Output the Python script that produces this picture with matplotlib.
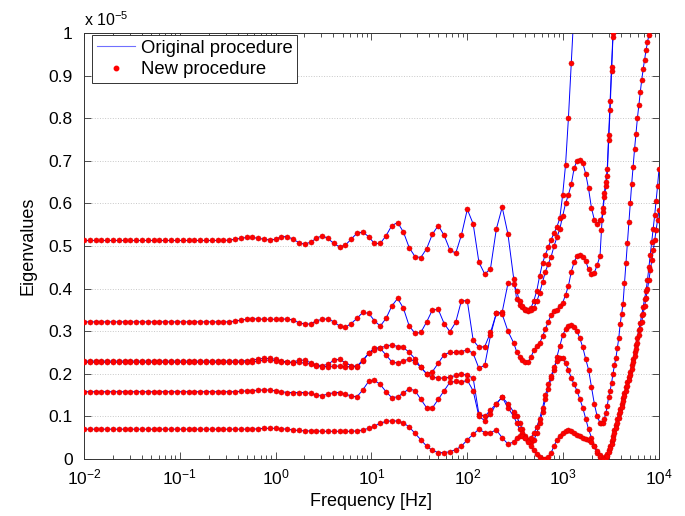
import numpy as np
import matplotlib
matplotlib.use('Agg')
import matplotlib.pyplot as plt
from matplotlib.lines import Line2D
from matplotlib.ticker import LogLocator, NullFormatter

plt.rcParams['font.family'] = ['Liberation Sans', 'DejaVu Sans']
plt.rcParams['mathtext.default'] = 'regular'

# sweep frequencies (log10 Hz)
log_freq = [
    -2.000, -1.939, -1.879, -1.818, -1.758, -1.697, -1.636, -1.576, -1.515, -1.455,
    -1.394, -1.333, -1.273, -1.212, -1.152, -1.091, -1.030, -0.970, -0.909, -0.848,
    -0.788, -0.727, -0.667, -0.606, -0.545, -0.485, -0.424, -0.364, -0.303, -0.242,
    -0.182, -0.121, -0.061, 0.000, 0.061, 0.121, 0.182, 0.242, 0.303, 0.364,
    0.424, 0.485, 0.545, 0.606, 0.667, 0.727, 0.788, 0.848, 0.909, 0.970,
    1.030, 1.091, 1.152, 1.212, 1.273, 1.333, 1.394, 1.455, 1.515, 1.576,
    1.636, 1.697, 1.758, 1.818, 1.879, 1.939, 2.000, 2.061, 2.121, 2.182,
    2.242, 2.303, 2.364, 2.424, 2.485,
    2.515, 2.545, 2.575, 2.605, 2.635, 2.665, 2.695, 2.725, 2.755, 2.785,
    2.815, 2.845, 2.875, 2.905, 2.935, 2.965, 2.995, 3.025, 3.055, 3.085,
    3.115, 3.145, 3.175, 3.205, 3.235, 3.265, 3.295, 3.325, 3.355, 3.385,
    3.400, 3.415, 3.430, 3.445, 3.460, 3.475, 3.490, 3.505, 3.520, 3.535,
    3.550, 3.565, 3.580, 3.595, 3.610, 3.625, 3.640, 3.655, 3.670, 3.685,
    3.700, 3.715, 3.730, 3.745, 3.760, 3.775, 3.790, 3.805, 3.820, 3.835,
    3.850, 3.865, 3.880, 3.895, 3.910, 3.925, 3.940, 3.955, 3.970, 3.985,
    4.000,
]

# eigenvalues in units of 1e-5
eig_1 = [
    0.513, 0.513, 0.513, 0.513, 0.513, 0.513, 0.513, 0.513, 0.513, 0.513,
    0.513, 0.513, 0.513, 0.513, 0.513, 0.513, 0.513, 0.513, 0.513, 0.513,
    0.513, 0.513, 0.513, 0.513, 0.513, 0.514, 0.516, 0.518, 0.520, 0.520,
    0.518, 0.516, 0.514, 0.516, 0.522, 0.522, 0.516, 0.508, 0.504, 0.509,
    0.518, 0.524, 0.518, 0.506, 0.498, 0.502, 0.516, 0.530, 0.533, 0.522,
    0.506, 0.506, 0.524, 0.548, 0.555, 0.533, 0.496, 0.475, 0.473, 0.494,
    0.528, 0.548, 0.525, 0.491, 0.483, 0.526, 0.586, 0.552, 0.462, 0.434,
    0.447, 0.540, 0.591, 0.528, 0.422,
    0.375, 0.362, 0.357, 0.350, 0.347, 0.355, 0.372, 0.395, 0.430, 0.460,
    0.480, 0.497, 0.515, 0.530, 0.545, 0.565, 0.620, 0.690, 0.800, 0.930,
    1.060,
]
eig_2 = [
    0.322, 0.322, 0.322, 0.322, 0.322, 0.322, 0.322, 0.322, 0.322, 0.322,
    0.322, 0.322, 0.322, 0.322, 0.322, 0.322, 0.322, 0.322, 0.322, 0.322,
    0.322, 0.322, 0.322, 0.322, 0.322, 0.322, 0.324, 0.326, 0.328, 0.329,
    0.329, 0.328, 0.328, 0.328, 0.328, 0.329, 0.326, 0.320, 0.317, 0.317,
    0.324, 0.328, 0.329, 0.322, 0.312, 0.309, 0.318, 0.330, 0.344, 0.342,
    0.325, 0.312, 0.330, 0.359, 0.377, 0.354, 0.312, 0.295, 0.297, 0.322,
    0.350, 0.351, 0.318, 0.299, 0.321, 0.372, 0.371, 0.279, 0.262, 0.264,
    0.297, 0.342, 0.345, 0.412, 0.410,
    0.395, 0.370, 0.360, 0.352, 0.350, 0.350, 0.355, 0.370, 0.390, 0.415,
    0.440, 0.458, 0.475, 0.500, 0.520, 0.540, 0.570, 0.600, 0.620, 0.645,
    0.683, 0.700, 0.703, 0.695, 0.670, 0.635, 0.590, 0.562, 0.552, 0.560,
    0.561, 0.580, 0.615, 0.640, 0.665, 0.750, 0.820, 0.910, 0.990, 1.060,
]
eig_3 = [
    0.230, 0.230, 0.230, 0.230, 0.230, 0.230, 0.230, 0.230, 0.230, 0.230,
    0.230, 0.230, 0.230, 0.230, 0.230, 0.230, 0.230, 0.230, 0.230, 0.230,
    0.230, 0.230, 0.230, 0.230, 0.230, 0.230, 0.230, 0.230, 0.231, 0.232,
    0.235, 0.236, 0.236, 0.234, 0.230, 0.228, 0.227, 0.232, 0.232, 0.226,
    0.221, 0.219, 0.222, 0.232, 0.234, 0.226, 0.219, 0.217, 0.229, 0.248,
    0.261, 0.261, 0.265, 0.268, 0.264, 0.262, 0.250, 0.235, 0.215, 0.200,
    0.192, 0.190, 0.190, 0.192, 0.196, 0.200, 0.196, 0.190, 0.105, 0.100,
    0.115, 0.130, 0.145, 0.130, 0.110,
    0.100, 0.085, 0.070, 0.055, 0.045, 0.040, 0.045, 0.060, 0.085, 0.110,
    0.140, 0.165, 0.190, 0.210, 0.240, 0.265, 0.290, 0.305, 0.313, 0.315,
    0.310, 0.300, 0.283, 0.262, 0.235, 0.210, 0.170, 0.130, 0.100, 0.085,
    0.084, 0.084, 0.095, 0.107, 0.125, 0.145, 0.160, 0.178, 0.200, 0.220,
    0.236, 0.260, 0.283, 0.316, 0.340, 0.365, 0.412, 0.459, 0.506, 0.556,
    0.602, 0.645, 0.686, 0.727, 0.763, 0.800, 0.831, 0.861, 0.890, 0.915,
    0.937, 0.960, 0.978, 0.996, 1.020,
]
eig_4 = [
    0.227, 0.227, 0.227, 0.227, 0.227, 0.227, 0.227, 0.227, 0.227, 0.227,
    0.227, 0.227, 0.227, 0.227, 0.227, 0.227, 0.227, 0.227, 0.227, 0.227,
    0.227, 0.227, 0.227, 0.227, 0.227, 0.227, 0.227, 0.227, 0.228, 0.228,
    0.230, 0.232, 0.232, 0.231, 0.228, 0.227, 0.226, 0.227, 0.225, 0.223,
    0.218, 0.217, 0.217, 0.218, 0.218, 0.217, 0.217, 0.218, 0.232, 0.248,
    0.256, 0.260, 0.244, 0.228, 0.225, 0.230, 0.235, 0.228, 0.215, 0.200,
    0.205, 0.225, 0.245, 0.250, 0.250, 0.252, 0.256, 0.248, 0.213, 0.220,
    0.290, 0.342, 0.340, 0.300, 0.272,
    0.252, 0.240, 0.232, 0.227, 0.227, 0.240, 0.255, 0.265, 0.272, 0.288,
    0.305, 0.322, 0.338, 0.347, 0.350, 0.360, 0.367, 0.385, 0.406, 0.440,
    0.462, 0.477, 0.479, 0.475, 0.465, 0.445, 0.435, 0.437, 0.455, 0.477,
    0.538, 0.590, 0.625, 0.650, 0.680, 0.760, 0.840, 0.920, 1.000, 1.050,
]
eig_5 = [
    0.158, 0.158, 0.158, 0.158, 0.158, 0.158, 0.158, 0.158, 0.158, 0.158,
    0.158, 0.158, 0.158, 0.158, 0.158, 0.158, 0.158, 0.158, 0.158, 0.158,
    0.158, 0.158, 0.158, 0.158, 0.158, 0.158, 0.158, 0.159, 0.160, 0.160,
    0.162, 0.162, 0.162, 0.160, 0.158, 0.156, 0.156, 0.156, 0.156, 0.154,
    0.150, 0.149, 0.152, 0.156, 0.156, 0.152, 0.148, 0.146, 0.162, 0.182,
    0.185, 0.175, 0.158, 0.144, 0.146, 0.155, 0.165, 0.160, 0.140, 0.120,
    0.120, 0.140, 0.160, 0.180, 0.182, 0.180, 0.185, 0.160, 0.100, 0.090,
    0.105, 0.130, 0.145, 0.120, 0.100,
    0.085, 0.070, 0.060, 0.050, 0.045, 0.050, 0.060, 0.075, 0.095, 0.120,
    0.150, 0.175, 0.195, 0.215, 0.230, 0.236, 0.237, 0.225, 0.209, 0.190,
    0.175, 0.160, 0.140, 0.120, 0.095, 0.070, 0.050, 0.030, 0.015, 0.005,
    0.002, 0.000, 0.002, 0.006, 0.012, 0.020, 0.030, 0.042, 0.055, 0.068,
    0.080, 0.093, 0.105, 0.118, 0.130, 0.143, 0.155, 0.168, 0.180, 0.193,
    0.205, 0.220, 0.235, 0.250, 0.268, 0.285, 0.303, 0.320, 0.338, 0.357,
    0.376, 0.395, 0.420, 0.450, 0.480, 0.510, 0.540, 0.572, 0.605, 0.640,
    0.680,
]
eig_6 = [
    0.070, 0.070, 0.070, 0.070, 0.070, 0.070, 0.070, 0.070, 0.070, 0.070,
    0.070, 0.070, 0.070, 0.070, 0.070, 0.070, 0.070, 0.070, 0.070, 0.070,
    0.070, 0.070, 0.070, 0.070, 0.070, 0.070, 0.070, 0.070, 0.070, 0.070,
    0.071, 0.072, 0.072, 0.072, 0.071, 0.070, 0.068, 0.067, 0.066, 0.066,
    0.066, 0.065, 0.065, 0.065, 0.065, 0.065, 0.065, 0.066, 0.068, 0.072,
    0.077, 0.084, 0.088, 0.090, 0.089, 0.085, 0.075, 0.060, 0.045, 0.030,
    0.020, 0.015, 0.015, 0.017, 0.022, 0.030, 0.045, 0.058, 0.070, 0.062,
    0.062, 0.068, 0.050, 0.035, 0.040,
    0.050, 0.055, 0.055, 0.050, 0.040, 0.030, 0.020, 0.012, 0.005, 0.001,
    0.000, 0.005, 0.015, 0.030, 0.045, 0.055, 0.062, 0.066, 0.068, 0.066,
    0.062, 0.057, 0.053, 0.050, 0.047, 0.045, 0.040, 0.030, 0.018, 0.010,
    0.005, 0.002, 0.000, 0.003, 0.008, 0.016, 0.025, 0.036, 0.048, 0.060,
    0.072, 0.085, 0.097, 0.110, 0.122, 0.135, 0.147, 0.160, 0.172, 0.185,
    0.198, 0.212, 0.227, 0.242, 0.258, 0.273, 0.290, 0.306, 0.322, 0.340,
    0.358, 0.377, 0.398, 0.420, 0.443, 0.466, 0.490, 0.513, 0.537, 0.561,
    0.585,
]
curves = [eig_1, eig_2, eig_3, eig_4, eig_5, eig_6]

y_ticks = [0, 0.1, 0.2, 0.3, 0.4, 0.5, 0.6, 0.7, 0.8, 0.9, 1]
y_tick_labels = ['0', '0.1', '0.2', '0.3', '0.4', '0.5', '0.6', '0.7', '0.8', '0.9', '1']
x_ticks = [1e-2, 1e-1, 1e0, 1e1, 1e2, 1e3, 1e4]
x_tick_labels = ['$10^{-2}$', '$10^{-1}$', '$10^{0}$', '$10^{1}$', '$10^{2}$', '$10^{3}$', '$10^{4}$']

freq = 10.0 ** np.array(log_freq)

fig = plt.figure(figsize=(6.85, 5.16), dpi=100)
ax = fig.add_axes([0.1226, 0.1105, 0.8394, 0.8255])

for vals in curves:
    n = len(vals)
    ax.plot(freq[:n], vals, color='blue', lw=0.7, zorder=2)
for vals in curves:
    n = len(vals)
    ax.plot(freq[:n], vals, ls='none', marker='o', ms=3.7, mfc='red', mec='#d00000', mew=0.3, zorder=3)

ax.set_xscale('log')
ax.set_xlim(1e-2, 1e4)
ax.set_ylim(0, 1)
ax.set_xticks(x_ticks)
ax.set_xticklabels(x_tick_labels)
ax.xaxis.set_minor_locator(LogLocator(base=10, subs=np.arange(2, 10), numticks=20))
ax.xaxis.set_minor_formatter(NullFormatter())
ax.set_yticks(y_ticks)
ax.set_yticklabels(y_tick_labels)

ax.tick_params(which='both', direction='in', top=True, right=True, colors='#333333',
               labelcolor='black', labelsize=12.5, width=0.6)
ax.tick_params(which='major', length=5)
ax.tick_params(which='minor', length=3)
ax.tick_params(axis='y', pad=8)
ax.tick_params(axis='x', pad=6)
for sp in ax.spines.values():
    sp.set_color('#333333')
    sp.set_linewidth(0.7)

ax.yaxis.grid(True, ls=':', color='#c8c8c8', lw=0.7)
ax.set_axisbelow(True)

ax.set_xlabel('Frequency [Hz]', fontsize=13, labelpad=4)
ax.set_ylabel('Eigenvalues', fontsize=13, labelpad=9)
fig.text(84 / 685, 1 - 26 / 516, 'x $10^{-5}$', fontsize=11.5, ha='left', va='baseline')

handles = [Line2D([], [], color='#7070ff', lw=0.8),
           Line2D([], [], ls='none', marker='o', ms=3.2, mfc='red', mec='red')]
leg = ax.legend(handles, ['Original procedure', 'New procedure'], loc='upper left',
                bbox_to_anchor=(92 / 685, 1 - 35 / 516), bbox_transform=fig.transFigure,
                borderaxespad=0, fontsize=13.3, fancybox=False, framealpha=1,
                handlelength=2.1, handletextpad=0.3, labelspacing=0.25, borderpad=0.25)
leg.get_frame().set_edgecolor('#333333')
leg.get_frame().set_linewidth(0.7)

fig.savefig('out.png', dpi=100)
